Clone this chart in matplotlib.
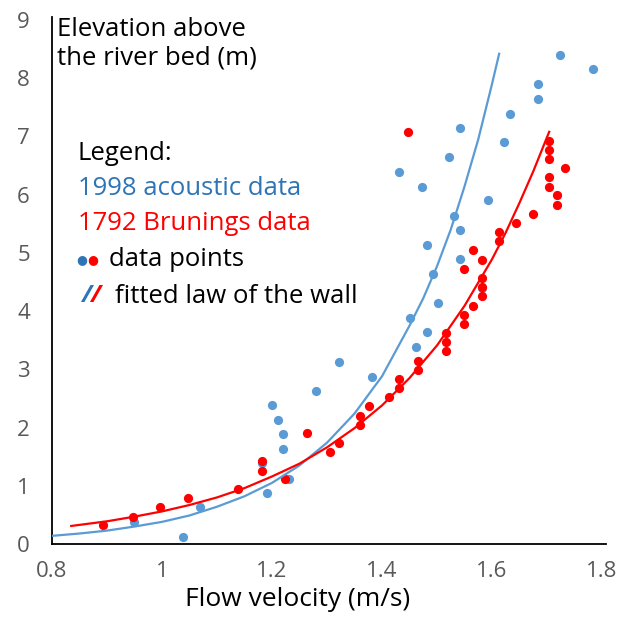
import matplotlib
matplotlib.use("Agg")
import matplotlib.pyplot as plt

plt.rcParams['font.family'] = ['Open Sans', 'DejaVu Sans']

# measured points (flow velocity m/s, elevation m)
blue_v = [0.949, 1.038, 1.069, 1.182, 1.191, 1.200, 1.211, 1.220, 1.220, 1.231,
          1.280, 1.322, 1.382, 1.431, 1.451, 1.462, 1.472, 1.482, 1.482, 1.493,
          1.502, 1.522, 1.531, 1.542, 1.542, 1.542, 1.582, 1.593, 1.622, 1.633,
          1.684, 1.684, 1.724, 1.784]
blue_z = [0.38, 0.12, 0.64, 1.39, 0.88, 2.39, 2.13, 1.89, 1.63, 1.12,
          2.63, 3.13, 2.87, 6.39, 3.89, 3.38, 6.14, 3.64, 5.14, 4.64,
          4.14, 6.65, 5.64, 7.15, 5.40, 4.89, 4.40, 5.90, 6.90, 7.39,
          7.90, 7.65, 8.40, 8.16]

red_v = [0.893, 0.947, 0.997, 1.047, 1.138, 1.182, 1.182, 1.224, 1.264, 1.305,
         1.322, 1.360, 1.360, 1.377, 1.413, 1.431, 1.431, 1.447, 1.465, 1.465,
         1.516, 1.516, 1.516, 1.549, 1.549, 1.549, 1.566, 1.566, 1.582, 1.582,
         1.582, 1.582, 1.613, 1.613, 1.644, 1.675, 1.704, 1.704, 1.704, 1.704,
         1.704, 1.718, 1.718, 1.733]
red_z = [0.32, 0.47, 0.64, 0.79, 0.95, 1.43, 1.25, 1.11, 1.90, 1.58,
         1.74, 2.20, 2.04, 2.37, 2.53, 2.83, 2.68, 7.08, 3.14, 2.99,
         3.63, 3.47, 3.32, 3.93, 3.78, 4.73, 4.09, 5.05, 4.26, 4.42,
         4.57, 4.88, 5.21, 5.36, 5.51, 5.67, 6.92, 6.77, 6.61, 6.30,
         6.14, 5.99, 5.82, 6.45]

# fitted law of the wall
blue_fit_v = [0.80, 0.85, 0.90, 0.95, 1.00, 1.05, 1.10, 1.15, 1.20, 1.25,
              1.30, 1.35, 1.40, 1.45, 1.475, 1.50, 1.525, 1.55, 1.575, 1.60, 1.613]
blue_fit_z = [0.14, 0.18, 0.23, 0.30, 0.38, 0.49, 0.64, 0.82, 1.05, 1.35,
              1.74, 2.24, 2.88, 3.75, 4.22, 4.77, 5.40, 6.14, 6.95, 7.90, 8.42]
red_fit_v = [0.835, 0.90, 0.95, 1.00, 1.05, 1.10, 1.15, 1.20, 1.25, 1.30,
             1.35, 1.40, 1.45, 1.50, 1.55, 1.60, 1.625, 1.65, 1.675, 1.704]
red_fit_z = [0.31, 0.39, 0.47, 0.56, 0.67, 0.80, 0.96, 1.16, 1.38, 1.66,
             1.99, 2.38, 2.85, 3.41, 4.09, 4.89, 5.35, 5.86, 6.40, 7.08]

xticks = [0.8, 1.0, 1.2, 1.4, 1.6, 1.8]
xtick_labels = ["0.8", "1", "1.2", "1.4", "1.6", "1.8"]
yticks = list(range(0, 10))

blue = "#5B9BD5"
blue_txt = "#2E75B6"
red = "#FF0000"
gray = "#595959"

fig = plt.figure(figsize=(6.22, 6.19), dpi=100)
ax = fig.add_axes([52/622, 75/619, 550/622, 524/619])

ax.scatter(blue_v, blue_z, s=44, color=blue, linewidths=0, zorder=2)
ax.scatter(red_v, red_z, s=44, color=red, linewidths=0, zorder=3)
ax.plot(blue_fit_v, blue_fit_z, color=blue, lw=1.6, zorder=4)
ax.plot(red_fit_v, red_fit_z, color=red, lw=1.6, zorder=5)

ax.set_xlim(0.8, 1.8)
ax.set_ylim(0, 9)
ax.set_xticks(xticks)
ax.set_xticklabels(xtick_labels)
ax.set_yticks(yticks)
ax.tick_params(length=0, labelsize=16, labelcolor=gray)
ax.tick_params(axis='y', pad=16)
ax.tick_params(axis='x', pad=12)
for s in ["top", "right"]:
    ax.spines[s].set_visible(False)
for s in ["left", "bottom"]:
    ax.spines[s].set_linewidth(1.3)
    ax.spines[s].set_color("black")
ax.spines["left"].set_bounds(0, 9.05)
ax.spines["bottom"].set_bounds(0.8, 1.807)

ax.set_xlabel("Flow velocity (m/s)", fontsize=19, color="black")
ax.xaxis.set_label_coords(0.447, -0.082)

fs = 18.5
ax.text(0.009, 1.006, "Elevation above\nthe river bed (m)", transform=ax.transAxes,
        fontsize=fs, va="top", ha="left", linespacing=1.2)
ax.text(0.047, 0.746, "Legend:", transform=ax.transAxes, fontsize=fs, va="center")
ax.text(0.047, 0.678, "1998 acoustic data", transform=ax.transAxes, fontsize=fs,
        va="center", color=blue_txt)
ax.text(0.047, 0.612, "1792 Brunings data", transform=ax.transAxes, fontsize=fs,
        va="center", color=red)
ax.text(0.0545, 0.543, "\u25CF", transform=ax.transAxes, fontsize=9,
        va="center", ha="center", color=blue_txt, family="DejaVu Sans")
ax.text(0.0745, 0.543, "\u25CF", transform=ax.transAxes, fontsize=9,
        va="center", ha="center", color=red, family="DejaVu Sans")
ax.text(0.103, 0.542, "data points", transform=ax.transAxes, fontsize=fs, va="center")
ax.text(0.062, 0.474, "/", transform=ax.transAxes, fontsize=fs - 1, va="center",
        ha="center", color=blue_txt, style="italic", fontweight="bold")
ax.text(0.079, 0.474, "/", transform=ax.transAxes, fontsize=fs - 1, va="center",
        ha="center", color=red, style="italic", fontweight="bold")
ax.text(0.114, 0.473, "fitted law of the wall", transform=ax.transAxes,
        fontsize=fs, va="center")

fig.savefig("out.png", dpi=100)
